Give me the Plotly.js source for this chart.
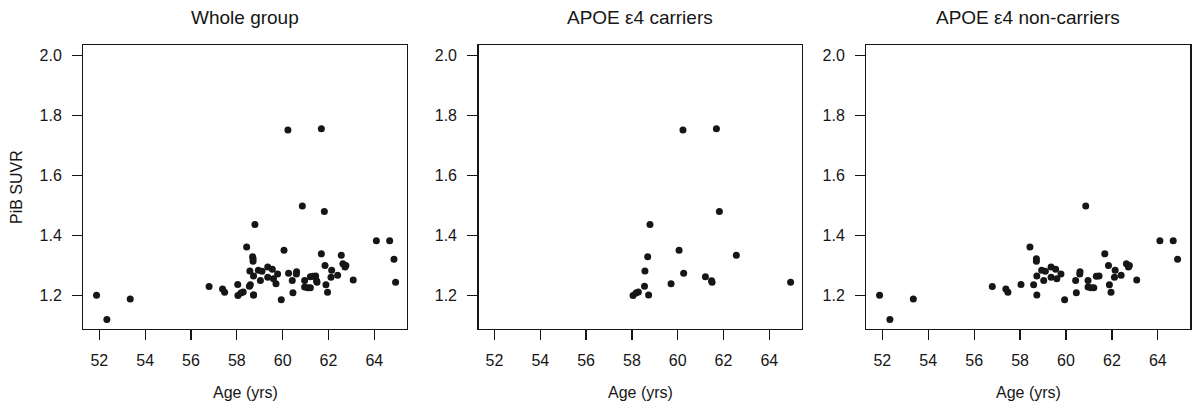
<!DOCTYPE html>
<html>
<head>
<meta charset="utf-8">
<script src="https://cdn.plot.ly/plotly-3.0.1.min.js"></script>
<style>
html,body{margin:0;padding:0;background:#fff;}
#chart{width:1193px;height:401px;}
</style>
</head>
<body>
<div id="chart"></div>
<script>
// ---- Data ----
var panelTitles = ["Whole group", "APOE \u03b54 carriers", "APOE \u03b54 non-carriers"];
var xAxisLabel = "Age (yrs)";
var yAxisLabel = "PiB SUVR";
var xTickVals = [52, 54, 56, 58, 60, 62, 64];
var yTickVals = [1.2, 1.4, 1.6, 1.8, 2.0];

var carrierAge  = [58.05, 58.18, 58.28, 58.55, 58.57, 58.69, 58.73, 58.79, 59.71, 60.06,
                   60.23, 60.26, 61.21, 61.48, 61.50, 61.69, 61.82, 62.56, 64.93];
var carrierSUVR = [1.200, 1.208, 1.212, 1.231, 1.282, 1.329, 1.202, 1.437, 1.239, 1.351,
                   1.752, 1.274, 1.263, 1.249, 1.244, 1.756, 1.480, 1.334, 1.244];

var nonCarrierAge  = [51.88, 52.33, 53.35, 56.79, 57.38, 57.47, 58.04, 58.43, 58.59, 58.71,
                      58.71, 58.73, 58.73, 58.94, 59.03, 59.10, 59.35, 59.35, 59.55, 59.60,
                      59.78, 59.94, 60.42, 60.45, 60.61, 60.60, 60.86, 60.96, 60.96, 61.09,
                      61.21, 61.32, 61.44, 61.69, 61.85, 61.89, 61.96, 62.11, 62.14, 62.40,
                      62.63, 62.76, 62.72, 63.08, 64.09, 64.67, 64.86];
var nonCarrierSUVR = [1.201, 1.120, 1.188, 1.230, 1.222, 1.211, 1.237, 1.362, 1.236, 1.323,
                      1.314, 1.265, 1.202, 1.284, 1.250, 1.281, 1.295, 1.261, 1.288, 1.256,
                      1.272, 1.186, 1.250, 1.209, 1.279, 1.272, 1.499, 1.250, 1.228, 1.226,
                      1.226, 1.264, 1.265, 1.339, 1.300, 1.236, 1.211, 1.261, 1.284, 1.268,
                      1.306, 1.300, 1.295, 1.252, 1.383, 1.383, 1.321];

// whole group = both sub-groups
var wholeAge  = nonCarrierAge.concat(carrierAge);
var wholeSUVR = nonCarrierSUVR.concat(carrierSUVR);

// ---- Layout helpers ----
var W = 1193, H = 401;
var xDomains = [[83.3/W, 406.7/W], [478.5/W, 801.7/W], [866.3/W, 1190.3/W]];
var yDomain = [1 - 329/H, 1 - 45/H];
var xRange = [51.302, 65.414];
var yRange = [1.0883, 2.0357];
var fontFam = "Liberation Sans, Arial, sans-serif";
var ink = "#161616";

var groups = [[wholeAge, wholeSUVR], [carrierAge, carrierSUVR], [nonCarrierAge, nonCarrierSUVR]];
var traces = groups.map(function (g, i) {
  return {
    x: g[0], y: g[1],
    type: "scatter", mode: "markers",
    xaxis: i === 0 ? "x" : "x" + (i + 1),
    yaxis: i === 0 ? "y" : "y" + (i + 1),
    marker: {size: 7, color: ink, line: {width: 0}},
    hoverinfo: "x+y", showlegend: false
  };
});

function xaxisDef(i) {
  return {
    domain: xDomains[i], range: xRange, anchor: i === 0 ? "y" : "y" + (i + 1),
    tickmode: "array", tickvals: xTickVals, ticktext: xTickVals.map(String),
    ticks: "outside", ticklen: 10, tickwidth: 1.2, tickcolor: ink,
    showline: true, linecolor: ink, linewidth: 1.3, mirror: true,
    showgrid: false, zeroline: false,
    tickfont: {family: fontFam, size: 16, color: ink},
    ticklabelstandoff: 6
  };
}
function yaxisDef(i) {
  return {
    domain: yDomain, range: yRange, anchor: i === 0 ? "x" : "x" + (i + 1),
    tickmode: "array", tickvals: yTickVals, ticktext: yTickVals.map(function (v) { return v.toFixed(1); }),
    ticks: "outside", ticklen: 10, tickwidth: 1.2, tickcolor: ink,
    showline: true, linecolor: ink, linewidth: 1.3, mirror: true,
    showgrid: false, zeroline: false,
    tickfont: {family: fontFam, size: 16, color: ink},
    ticklabelstandoff: 7
  };
}

var layout = {
  width: W, height: H,
  margin: {l: 0, r: 0, t: 0, b: 0, pad: 0},
  paper_bgcolor: "#fff", plot_bgcolor: "#fff",
  showlegend: false,
  annotations: []
};
for (var i = 0; i < 3; i++) {
  var sfx = i === 0 ? "" : String(i + 1);
  layout["xaxis" + sfx] = xaxisDef(i);
  layout["yaxis" + sfx] = yaxisDef(i);
  var cx = (xDomains[i][0] + xDomains[i][1]) / 2;
  layout.annotations.push({
    text: panelTitles[i], xref: "paper", yref: "paper",
    x: cx, y: 1 - 18/H, xanchor: "center", yanchor: "middle",
    showarrow: false, font: {family: fontFam, size: 19, color: ink}
  });
  layout.annotations.push({
    text: xAxisLabel, xref: "paper", yref: "paper",
    x: cx, y: 1 - 392/H, xanchor: "center", yanchor: "middle",
    showarrow: false, font: {family: fontFam, size: 16, color: ink}
  });
}
layout.annotations.push({
  text: yAxisLabel, xref: "paper", yref: "paper",
  x: 17/W, y: 1 - 187/H, xanchor: "center", yanchor: "middle", textangle: -90,
  showarrow: false, font: {family: fontFam, size: 16, color: ink}
});

Plotly.newPlot("chart", traces, layout, {staticPlot: true, displayModeBar: false});
</script>
</body>
</html>
